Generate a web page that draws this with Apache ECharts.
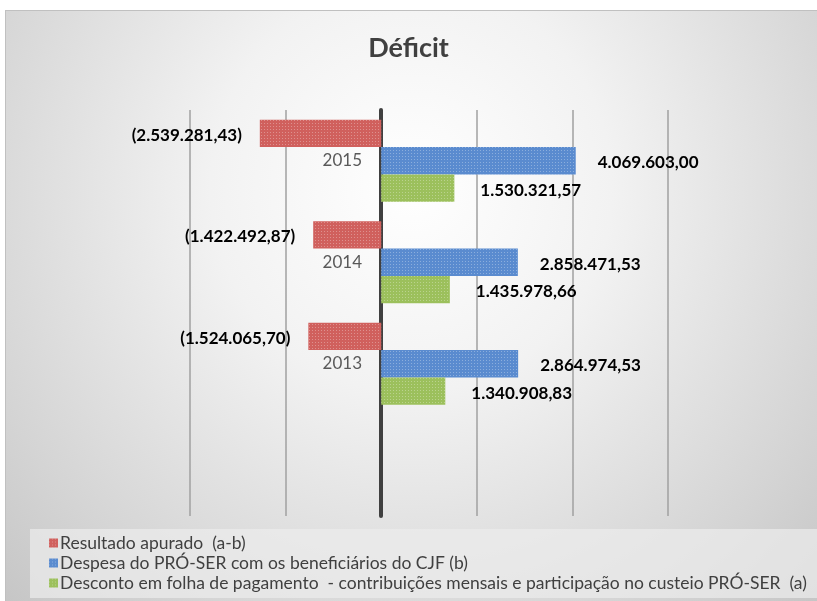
<!DOCTYPE html>
<html>
<head>
<meta charset="utf-8">
<script src="https://cdn.jsdelivr.net/npm/echarts@6/dist/echarts.min.js"></script>
<style>
  html, body { margin: 0; padding: 0; background: #fff; }
  #wrap { position: relative; width: 817px; height: 601px; overflow: hidden; }
  #bg {
    position: absolute; left: 5px; top: 10px; right: 0; bottom: 0;
    border: 1px solid #c0c0c0; border-right: none; border-bottom: none;
    background: radial-gradient(ellipse at 50% 30%, #ffffff 0%, #f2f2f2 35%, #d4d4d4 80%, #c6c6c6 100%);
  }
  #main { position: absolute; left: 0; top: 0; width: 817px; height: 601px; }
</style>
</head>
<body>
<div id="wrap">
  <div id="bg"></div>
  <div id="main"></div>
</div>
<script>
// dados do gráfico
var anos = ['2013', '2014', '2015'];
var resultado = [-1524065.70, -1422492.87, -2539281.43];
var despesa = [2864974.53, 2858471.53, 4069603.00];
var desconto = [1340908.83, 1435978.66, 1530321.57];
var nomes = [
  'Resultado apurado  (a-b)',
  'Despesa do PRÓ-SER com os beneficiários do CJF (b)',
  'Desconto em folha de pagamento  - contribuições mensais e participação no custeio PRÓ-SER  (a)'
];

// formato brasileiro, negativos entre parênteses
function fmt(v) {
  var s = Math.abs(v).toFixed(2).split('.');
  var inteiro = s[0].replace(/\B(?=(\d{3})+(?!\d))/g, '.');
  var txt = inteiro + ',' + s[1];
  return v < 0 ? '(' + txt + ')' : txt;
}

var fonte = 'Lato, "Open Sans", sans-serif';
var decal = {
  symbol: 'rect',
  symbolSize: 1,
  dashArrayX: [1, 2],
  dashArrayY: [1, 2],
  color: 'rgba(255,255,255,0.3)'
};

function serie(nome, valores, cor, pos, dist) {
  return {
    name: nome,
    type: 'bar',
    barGap: '0%',
    barCategoryGap: '19%',
    data: [null].concat(valores),
    itemStyle: { color: cor, decal: decal },
    label: {
      show: true,
      position: pos,
      distance: dist,
      offset: [0, 2],
      formatter: function (p) { return fmt(p.value); },
      color: '#000',
      fontWeight: 'bold',
      fontSize: 17,
      fontFamily: fonte
    }
  };
}

var chart = echarts.init(document.getElementById('main'));
chart.setOption({
  backgroundColor: 'transparent',
  animation: false,
  title: {
    text: 'Déficit',
    left: 'center',
    top: 30,
    textStyle: { fontSize: 27, fontWeight: 'bold', color: '#404040', fontFamily: fonte }
  },
  graphic: [{
    type: 'rect',
    shape: { x: 30, y: 529, width: 787, height: 69 },
    style: { fill: 'rgba(236,236,236,0.7)' },
    silent: true,
    z: -1
  }],
  legend: {
    orient: 'vertical',
    left: 44,
    top: 529,
    itemWidth: 9,
    itemHeight: 9,
    itemGap: 2,
    icon: 'rect',
    textStyle: { fontSize: 17.5, lineHeight: 18, color: '#404040', fontFamily: fonte, padding: [0, 0, 0, -3] },
    data: nomes
  },
  grid: { left: 190, right: 149, top: 110, bottom: 85 },
  xAxis: {
    type: 'value',
    min: -4000000,
    max: 6000000,
    interval: 2000000,
    axisLabel: { show: false },
    axisLine: { show: false },
    axisTick: { show: false },
    splitLine: { lineStyle: { color: '#a0a0a0', width: 1.5 } }
  },
  yAxis: {
    type: 'category',
    data: [''].concat(anos),
    axisLine: { onZero: true, lineStyle: { color: '#404040', width: 4 } },
    axisTick: { show: false },
    axisLabel: { margin: -172, fontSize: 17, color: '#595959', fontFamily: fonte }
  },
  series: [
    serie(nomes[0], resultado, '#d0605d', 'left', 18),
    serie(nomes[1], despesa, '#5a8bcf', 'right', 22),
    serie(nomes[2], desconto, '#9cc05c', 'right', 26)
  ]
});
</script>
</body>
</html>
